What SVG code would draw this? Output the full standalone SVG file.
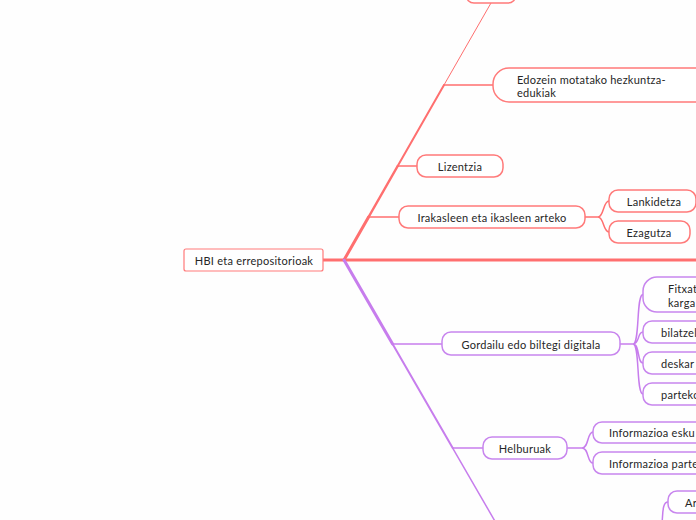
<svg xmlns="http://www.w3.org/2000/svg" width="696" height="520" viewBox="0 0 696 520">
<style>
text{font-family:"Lato","Noto Sans",sans-serif;font-size:11px;letter-spacing:0.25px;fill:#262626;dominant-baseline:central}
.r{fill:#fff;stroke:#ff7a7a;stroke-width:1.5}
.p{fill:#fff;stroke:#c886ee;stroke-width:1.5}
.rl{fill:none;stroke:#ff6f6f;stroke-linecap:round}
.pl{fill:none;stroke:#c77ded;stroke-linecap:round}
.c{text-anchor:middle}
</style>
<rect width="696" height="520" fill="#fefefe"/>
<g id="connectors">
<line class="rl" x1="323" y1="260" x2="344" y2="260" stroke-width="3"/>
<line class="rl" x1="344" y1="260" x2="700" y2="260" stroke-width="3"/>
<line class="rl" x1="344" y1="260" x2="368.6" y2="217" stroke-width="3"/>
<line class="rl" x1="368.6" y1="217" x2="397.7" y2="166" stroke-width="2.5"/>
<line class="rl" x1="397.7" y1="166" x2="444" y2="85" stroke-width="2"/>
<line class="rl" x1="444" y1="85" x2="491" y2="3" stroke-width="1"/>
<line class="rl" x1="368.6" y1="217" x2="399" y2="217" stroke-width="1.5"/>
<line class="rl" x1="397.7" y1="166" x2="417" y2="166" stroke-width="1.5"/>
<line class="rl" x1="444" y1="85" x2="493" y2="85" stroke-width="1.5"/>
<path class="rl" stroke-width="1.5" d="M585 217 L598 217 C604 217 603 201 609 201 M598 217 C604 217 603 232 609 232"/>
<line class="pl" x1="344" y1="260" x2="392.6" y2="344" stroke-width="3"/>
<line class="pl" x1="392.6" y1="344" x2="452.7" y2="448" stroke-width="2"/>
<line class="pl" x1="452.7" y1="448" x2="496" y2="523" stroke-width="1.5"/>
<line class="pl" x1="392.6" y1="344" x2="442" y2="344" stroke-width="1.5"/>
<line class="pl" x1="452.7" y1="448" x2="483" y2="448" stroke-width="1.5"/>
<path class="pl" stroke-width="1.5" d="M620 344 L633 344 C640 344 636 294.5 643 294.5 M633 344 C640 344 637 332 643 332 M633 344 C640 344 637 363 643 363 M633 344 C640 344 636 394 643 394"/>
<path class="pl" stroke-width="1.5" d="M567 448 L582 448 C589 448 587 432 593 432 M582 448 C589 448 587 463 593 463"/>
<path class="pl" stroke-width="1.5" d="M668 502 C662 502 663 515 662 523"/>
</g>
<g id="root"><rect x="184" y="249" width="139" height="22" rx="2" fill="#fff" stroke="#ff7a7a" stroke-width="1.2"/><text class="c" x="254" y="260">HBI eta errepositorioak</text></g>
<g id="top"><rect class="r" x="466" y="-20" width="50" height="23" rx="8"/></g>
<g id="edozein"><rect class="r" x="493" y="68" width="230" height="34" rx="16"/><text x="517" y="79">Edozein motatako hezkuntza-</text><text x="517" y="92">edukiak</text></g>
<g id="lizentzia"><rect class="r" x="417" y="155" width="86" height="22" rx="9"/><text class="c" x="460" y="166">Lizentzia</text></g>
<g id="irakasleen"><rect class="r" x="399" y="206" width="186" height="22" rx="9"/><text class="c" x="492" y="217">Irakasleen eta ikasleen arteko</text></g>
<g id="lankidetza"><rect class="r" x="609" y="190" width="87" height="22" rx="9"/><text class="c" x="654" y="201">Lankidetza</text></g>
<g id="ezagutza"><rect class="r" x="609" y="221" width="81" height="22" rx="9"/><text class="c" x="649" y="232">Ezagutza</text></g>
<g id="gordailu"><rect class="p" x="442" y="332" width="178" height="23" rx="9"/><text class="c" x="531" y="344">Gordailu edo biltegi digitala</text></g>
<g id="fitxat"><rect class="p" x="643" y="277" width="90" height="35" rx="14"/><text x="668" y="288">Fitxat</text><text x="668" y="302">karga</text></g>
<g id="bilatzel"><rect class="p" x="643" y="321" width="90" height="22" rx="9"/><text x="661" y="332">bilatzel</text></g>
<g id="deskarg"><rect class="p" x="643" y="352" width="90" height="22" rx="9"/><text x="661" y="363">deskar</text></g>
<g id="parteko"><rect class="p" x="643" y="383" width="90" height="22" rx="9"/><text x="661" y="394">parteko</text></g>
<g id="helburuak"><rect class="p" x="483" y="437" width="84" height="22" rx="9"/><text class="c" x="525" y="448">Helburuak</text></g>
<g id="info1"><rect class="p" x="593" y="422" width="140" height="21" rx="9"/><text x="609" y="432">Informazioa esku</text></g>
<g id="info2"><rect class="p" x="593" y="452" width="140" height="22" rx="9"/><text x="609" y="463">Informazioa parte</text></g>
<g id="ar"><rect class="p" x="668" y="491" width="60" height="22" rx="9"/><text x="685" y="502">Ar</text></g>
</svg>
